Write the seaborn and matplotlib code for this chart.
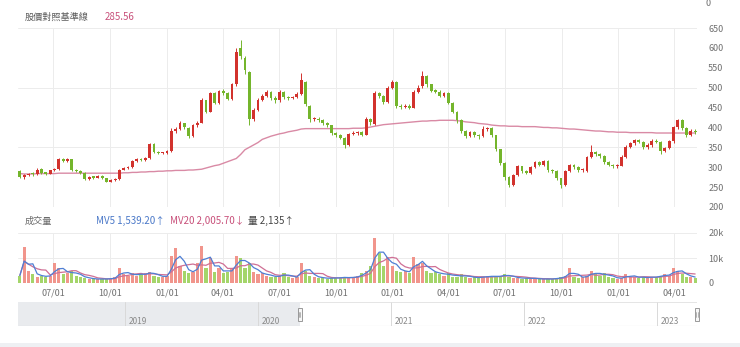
import numpy as np
import pandas as pd
import matplotlib
matplotlib.use("Agg")
import matplotlib.pyplot as plt
import matplotlib.dates as mdates
from matplotlib.patches import Rectangle
import seaborn as sns

# ---------------- data (weekly) ----------------
start_date = "2020-05-08"

opens = [290, 276, 280, 283, 282, 295, 286, 284, 292, 296,
         320, 316, 320, 292, 290, 286, 270, 276, 274, 278,
         272, 264, 268, 270, 294, 298, 300, 315, 320, 318,
         322, 358, 338, 335, 336, 340, 390, 396, 410, 398,
         378, 405, 412, 468, 440, 486, 462, 492, 486, 472,
         508, 600, 575, 540, 420, 445, 470, 480, 490, 475,
         468, 490, 476, 474, 476, 484, 515, 455, 420, 422,
         418, 410, 405, 386, 380, 374, 355, 384, 386, 388,
         382, 420, 408, 486, 480, 465, 500, 515, 455, 452,
         455, 450, 490, 505, 530, 508, 492, 490, 480, 486,
         462, 440, 418, 392, 378, 388, 380, 378, 395, 398,
         380, 345, 310, 275, 256, 280, 302, 290, 286, 300,
         312, 306, 315, 292, 290, 272, 255, 290, 305, 300,
         292, 290, 325, 338, 332, 328, 312, 306, 302, 304,
         326, 352, 360, 368, 364, 350, 356, 366, 364, 342,
         348, 365, 400, 418, 398, 380, 392]

closes = [276, 280, 283, 282, 292, 286, 284, 292, 295, 320,
          316, 320, 292, 290, 286, 270, 276, 274, 278, 272,
          264, 268, 270, 294, 298, 300, 315, 320, 318, 322,
          358, 338, 335, 336, 340, 390, 396, 410, 400, 378,
          405, 412, 470, 440, 486, 462, 492, 486, 472, 508,
          590, 580, 545, 420, 445, 470, 480, 490, 475, 468,
          490, 476, 474, 476, 484, 520, 460, 420, 422, 418,
          410, 405, 386, 380, 374, 355, 384, 386, 388, 382,
          420, 414, 486, 480, 465, 500, 515, 455, 452, 455,
          450, 490, 500, 530, 508, 492, 490, 480, 486, 462,
          440, 418, 392, 378, 388, 380, 378, 395, 398, 380,
          345, 310, 275, 256, 280, 302, 290, 286, 300, 312,
          306, 315, 292, 290, 272, 255, 290, 305, 300, 292,
          294, 325, 338, 332, 328, 312, 306, 302, 304, 326,
          352, 360, 368, 364, 350, 356, 366, 364, 342, 348,
          365, 400, 418, 398, 380, 392, 388]

highs = [292, 283, 286, 287, 297, 297, 289, 294, 298, 323,
         323, 324, 321, 295, 292, 287, 278, 279, 280, 280,
         274, 270, 273, 296, 301, 303, 318, 323, 323, 326,
         362, 360, 341, 339, 343, 398, 400, 415, 412, 400,
         408, 416, 475, 470, 490, 488, 495, 496, 488, 512,
         600, 620, 580, 542, 448, 474, 485, 495, 492, 478,
         495, 492, 480, 480, 488, 536, 518, 457, 426, 425,
         420, 413, 407, 389, 383, 376, 387, 390, 392, 390,
         425, 424, 492, 490, 482, 504, 520, 516, 460, 460,
         458, 494, 506, 542, 532, 510, 496, 493, 490, 488,
         464, 442, 420, 394, 392, 390, 384, 404, 402, 400,
         382, 346, 312, 277, 284, 306, 304, 293, 304, 316,
         316, 319, 317, 296, 292, 274, 292, 309, 308, 302,
         297, 328, 355, 341, 336, 330, 315, 309, 308, 330,
         356, 364, 372, 370, 366, 360, 370, 370, 366, 352,
         368, 404, 422, 420, 400, 396, 395]

lows = [272, 271, 278, 279, 280, 283, 281, 282, 290, 294,
        313, 314, 290, 287, 284, 268, 268, 271, 272, 270,
        262, 262, 266, 268, 292, 296, 299, 313, 315, 316,
        320, 335, 332, 332, 333, 338, 386, 394, 396, 374,
        376, 402, 410, 436, 438, 458, 460, 482, 468, 470,
        505, 572, 535, 405, 416, 442, 466, 476, 470, 462,
        465, 472, 470, 471, 473, 482, 455, 414, 416, 414,
        406, 401, 382, 376, 370, 348, 353, 380, 382, 378,
        380, 405, 406, 474, 460, 462, 496, 450, 447, 448,
        446, 448, 486, 500, 502, 488, 486, 476, 476, 458,
        436, 412, 386, 374, 375, 375, 372, 376, 390, 376,
        340, 305, 268, 250, 254, 278, 286, 282, 284, 298,
        302, 304, 288, 286, 268, 249, 253, 288, 296, 288,
        288, 288, 322, 328, 324, 308, 302, 298, 299, 302,
        324, 348, 356, 360, 346, 346, 352, 360, 334, 338,
        346, 362, 396, 394, 376, 378, 384]

baseline = [284, 283, 283, 283, 284, 284, 284, 284, 284, 285,
            285, 285, 285, 285, 285, 285, 285, 285, 285, 285,
            285, 285, 285, 285, 286, 286, 287, 287, 288, 288,
            289, 289, 290, 290, 291, 291, 292, 292, 292, 293,
            293, 294, 295, 298, 301, 304, 306, 310, 314, 318,
            322, 332, 344, 350, 356, 362, 370, 374, 378, 381,
            384, 386, 389, 391, 393, 396, 397, 397, 397, 397,
            397, 397, 397, 397, 397, 397, 397, 398, 398, 398,
            399, 401, 403, 405, 407, 408, 409, 410, 411, 412,
            413, 414, 415, 416, 416, 417, 417, 418, 418, 418,
            418, 417, 416, 414, 413, 412, 410, 409, 408, 406,
            405, 404, 404, 403, 403, 403, 402, 402, 402, 402,
            401, 400, 400, 399, 399, 398, 397, 396, 396, 395,
            394, 393, 392, 391, 391, 390, 389, 389, 388, 388,
            388, 387, 387, 387, 387, 387, 387, 386, 386, 386,
            386, 386, 386, 386, 386, 386, 386]

volumes = [3000, 14500, 5000, 3500, 2500, 3000, 2500, 3000, 8000, 6000,
           3500, 4000, 5000, 3000, 2500, 2000, 1800, 1500, 1500, 1800,
           1500, 1800, 2500, 6000, 3500, 3000, 4000, 3000, 3500, 4000,
           4500, 3000, 2500, 2500, 3000, 11000, 14000, 7000, 5000, 4000,
           4500, 8000, 15000, 6000, 10000, 4500, 6000, 4000, 4500, 6000,
           11000, 10000, 6000, 8000, 4500, 3500, 4000, 3000, 2500, 2500,
           3000, 4000, 2500, 2000, 2500, 8000, 5000, 3000, 2500, 2000,
           2000, 1800, 2000, 2200, 2000, 2500, 2000, 2200, 3000, 4000,
           5000, 7000, 18000, 12000, 7000, 10500, 7000, 5000, 4500, 5000,
           4000, 10500, 7500, 8000, 5000, 4000, 4500, 3500, 3000, 4000,
           2500, 2500, 3500, 2500, 2000, 2500, 2000, 2500, 3000, 2500,
           2500, 3000, 3500, 2500, 2200, 2000, 1800, 2000, 1800, 1800,
           1500, 1500, 1800, 1500, 2000, 2500, 3000, 6000, 2500, 2000,
           2500, 3000, 5000, 3500, 3000, 4000, 2500, 2000, 1800, 2000,
           3500, 2500, 2500, 2000, 2500, 2000, 2500, 2500, 3000, 3500,
           3000, 6000, 5000, 3500, 2500, 2500, 2135]

price_ticks = [200, 250, 300, 350, 400, 450, 500, 550, 600, 650]
vol_ticks = [0, 10000, 20000]
vol_tick_labels = ["0", "10k", "20k"]
nav_years = [2019, 2020, 2021, 2022, 2023]

title_text = "股價對照基準線"
title_value = "285.56"
vol_title = "成交量"
mv5_text = "MV5 1,539.20↑"
mv20_text = "MV20 2,005.70↓"
qty_text = "量 2,135↑"

# ---------------- build frame ----------------
dates = pd.date_range(start_date, periods=len(closes), freq="7D")
df = pd.DataFrame({"date": dates, "open": opens, "close": closes,
                   "high": highs, "low": lows,
                   "base": baseline, "vol": volumes})
df["up"] = df["close"] >= df["open"]
df["mv5"] = df["vol"].rolling(3, min_periods=1).mean()
df["mv20"] = df["vol"].rolling(6, min_periods=1).mean()

# ---------------- style ----------------
sns.set_theme(style="white")
plt.rcParams["font.family"] = ["Noto Sans CJK TC", "DejaVu Sans"]

RED = "#d2322d"
GREEN = "#74b52c"
VRED = "#f08a80"
VGREEN = "#9ad15a"
PINK = "#d98aa5"
BLUE = "#4f7fd4"
MVPINK = "#cf6f95"
TICK = "#707070"
GRID = "#ececec"

W, H = 740, 347
fig = plt.figure(figsize=(W / 100, H / 100), dpi=100)
fig.patch.set_facecolor("white")


def fx(px):
    return px / W


def fy(py):
    return 1 - py / H


L, R = 18, 697
ax = fig.add_axes([fx(L), fy(207), fx(R) - fx(L), fy(28) - fy(207)])
axv = fig.add_axes([fx(L), fy(283), fx(R) - fx(L), fy(233) - fy(283)])
axn = fig.add_axes([fx(L), fy(326), fx(R) - fx(L), fy(302) - fy(326)])

xmin, xmax = pd.Timestamp("2020-05-05"), pd.Timestamp("2023-05-08")
quarters = mdates.MonthLocator(bymonth=[1, 4, 7, 10])

# ---- price panel ----
for y in [200, 350, 500, 650]:
    ax.axhline(y, color=GRID, lw=0.7, zorder=0)
sns.lineplot(data=df, x="date", y="base", ax=ax, color=PINK, lw=1.0, zorder=2)
colors = np.where(df["up"], RED, GREEN)
ax.vlines(df["date"], df["low"], df["high"], colors=colors, lw=0.7, zorder=3)
body_bottom = np.minimum(df["open"], df["close"])
body_h = np.maximum((df["close"] - df["open"]).abs(), 3)
ax.bar(df["date"], body_h, bottom=body_bottom, width=4.6,
       color=colors, linewidth=0, zorder=4)
ax.set_xlim(xmin, xmax)
ax.set_ylim(200, 650)
ax.xaxis.set_major_locator(quarters)
ax.grid(axis="x", color=GRID, lw=0.7)
ax.set_axisbelow(True)
ax.yaxis.tick_right()
ax.set_yticks(price_ticks)
ax.set_yticklabels([str(t) for t in price_ticks])
ax.tick_params(axis="y", length=0, pad=8, labelsize=6.5, labelcolor=TICK)
ax.tick_params(axis="x", length=0, labelbottom=False)
ax.set_xlabel("")
ax.set_ylabel("")
for s in ax.spines.values():
    s.set_visible(False)

# ---- volume panel ----
for y in vol_ticks:
    axv.axhline(y, color=GRID, lw=0.7, zorder=0)
axv.bar(df["date"], df["vol"], width=5.2,
        color=np.where(df["up"], VRED, VGREEN), linewidth=0, alpha=0.9, zorder=2)
sns.lineplot(data=df, x="date", y="mv20", ax=axv, color=MVPINK, lw=0.9, zorder=3)
sns.lineplot(data=df, x="date", y="mv5", ax=axv, color=BLUE, lw=0.9, zorder=4)
axv.set_xlim(xmin, xmax)
axv.set_ylim(0, 20000)
axv.xaxis.set_major_locator(quarters)
axv.xaxis.set_major_formatter(mdates.DateFormatter("%m/%d"))
axv.grid(axis="x", color=GRID, lw=0.7)
axv.set_axisbelow(True)
axv.yaxis.tick_right()
axv.set_yticks(vol_ticks)
axv.set_yticklabels(vol_tick_labels)
axv.tick_params(axis="y", length=0, pad=8, labelsize=6.5, labelcolor=TICK)
axv.tick_params(axis="x", length=0, pad=4, labelsize=6.5, labelcolor=TICK)
axv.set_xlabel("")
axv.set_ylabel("")
for s in axv.spines.values():
    s.set_visible(False)

# ---- navigator ----
nav_lo, nav_hi = pd.Timestamp("2018-03-13"), pd.Timestamp("2023-04-20")
sel_lo = pd.Timestamp("2020-04-25")
axn.set_xlim(nav_lo, nav_hi)
axn.set_ylim(0, 1)
axn.axvspan(nav_lo, sel_lo, color="#e9ebee", lw=0, zorder=0)
for yr in nav_years:
    d = pd.Timestamp(f"{yr}-01-01")
    axn.axvline(d, color="#d9d9d9", lw=0.7, zorder=1)
    axn.text(d + pd.Timedelta(days=9), 0.2, str(yr), fontsize=6,
             color="#8a8a8a", va="center", ha="left")
axn.axhline(0, color="#cfcfcf", lw=0.8)
axn.plot([sel_lo, nav_hi], [1, 1], color="#e0e0e0", lw=0.6)
hw = 12
for d in [sel_lo, nav_hi]:
    x0 = mdates.date2num(d) - hw / 2
    axn.add_patch(Rectangle((x0, 0.22), hw, 0.52, facecolor="#f7f7f7",
                            edgecolor="#999999", lw=0.7, zorder=5, clip_on=False))
    axn.plot([mdates.date2num(d) - 1.5] * 2, [0.36, 0.6], color="#999999", lw=0.5,
             zorder=6, clip_on=False)
    axn.plot([mdates.date2num(d) + 1.5] * 2, [0.36, 0.6], color="#999999", lw=0.5,
             zorder=6, clip_on=False)
axn.set_xticks([])
axn.set_yticks([])
for s in axn.spines.values():
    s.set_visible(False)
axn.patch.set_alpha(0)

# ---- header texts ----
fig.text(fx(25), fy(17), title_text, fontsize=6.6, color="#5a5a5a", va="center")
fig.text(fx(105), fy(17), title_value, fontsize=7, color="#c8507a", va="center")
fig.text(fx(25), fy(221), vol_title, fontsize=6.6, color="#6a6a6a", va="center")
fig.text(fx(96), fy(221), mv5_text, fontsize=7, color="#4a78c8", va="center")
fig.text(fx(170), fy(221), mv20_text, fontsize=7, color="#c8507a", va="center")
fig.text(fx(248), fy(221), qty_text, fontsize=7, color="#444444", va="center")
fig.text(fx(705), fy(3), "0", fontsize=6.5, color=TICK, va="center")

# bottom band
fig.patches.append(Rectangle((0, 0), 1, 4 / H, transform=fig.transFigure,
                             facecolor="#eef0f3", edgecolor="none"))

fig.savefig("out.png", dpi=100)
